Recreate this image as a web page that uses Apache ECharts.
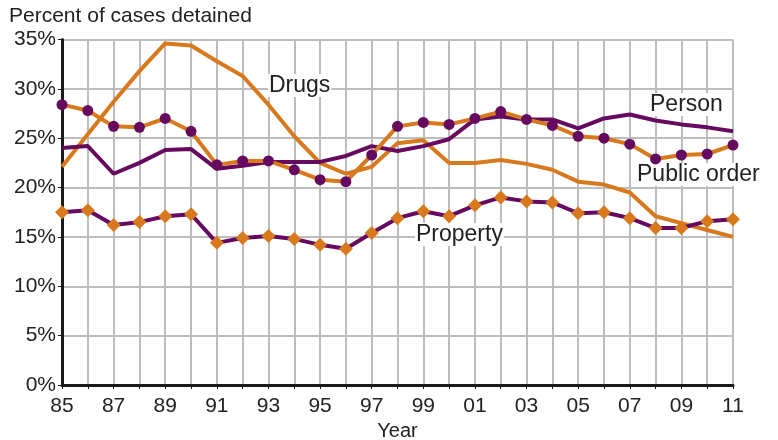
<!DOCTYPE html>
<html>
<head>
<meta charset="utf-8">
<script src="https://cdn.jsdelivr.net/npm/echarts@6/dist/echarts.min.js"></script>
<style>
  html, body { margin: 0; padding: 0; background: #fff; }
  #chart { width: 778px; height: 440px; }
</style>
</head>
<body>
<div id="chart"></div>
<script>
var years = ['85','86','87','88','89','90','91','92','93','94','95','96','97','98','99',
             '00','01','02','03','04','05','06','07','08','09','10','11'];
var drugs = [22.1, 25.4, 28.7, 31.8, 34.6, 34.4, 32.8, 31.3, 28.4, 25.2, 22.5, 21.4, 22.1, 24.5,
             24.8, 22.5, 22.5, 22.8, 22.4, 21.8, 20.6, 20.3, 19.5, 17.1, 16.4, 15.7, 15.0];
var person = [24.0, 24.2, 21.4, 22.5, 23.8, 23.9, 21.9, 22.2, 22.6, 22.6, 22.6, 23.2, 24.2, 23.7,
              24.2, 24.9, 26.9, 27.2, 26.9, 26.9, 26.0, 27.0, 27.4, 26.8, 26.4, 26.1, 25.7];
var publicOrder = [28.4, 27.8, 26.2, 26.1, 27.0, 25.7, 22.3, 22.7, 22.7, 21.8, 20.8, 20.6, 23.3, 26.2,
                   26.6, 26.4, 27.0, 27.7, 26.9, 26.3, 25.2, 25.0, 24.4, 22.9, 23.3, 23.4, 24.3];
var property = [17.5, 17.7, 16.2, 16.5, 17.1, 17.3, 14.4, 14.9, 15.1, 14.8, 14.2, 13.8, 15.4, 16.9,
                17.6, 17.1, 18.2, 19.0, 18.6, 18.5, 17.4, 17.5, 16.9, 15.9, 15.9, 16.6, 16.8];

var orange = '#d8791e';
var purple = '#650a5e';
var grey = '#bdbdbd';
var ink = '#222';
var font = 'Liberation Sans, Arial, sans-serif';

function label(text, left, top) {
  return {
    type: 'text', left: left, top: top, z: 1,
    style: { text: text, fill: ink, font: '23px ' + font, backgroundColor: '#fff', padding: [0, 1] }
  };
}

var chart = echarts.init(document.getElementById('chart'), null, { renderer: 'canvas' });
chart.setOption({
  animation: false,
  grid: { left: 62, right: 45, top: 39.5, bottom: 55, containLabel: false, outerBoundsMode: 'none' },
  xAxis: {
    type: 'category',
    data: years,
    boundaryGap: false,
    name: 'Year',
    nameLocation: 'middle',
    nameGap: 34,
    nameTextStyle: { color: ink, fontSize: 20, fontFamily: font },
    axisLine: { lineStyle: { color: '#1a1a1a', width: 3 } },
    axisTick: { show: true, interval: 0, length: 4, lineStyle: { color: '#1a1a1a', width: 1 } },
    axisLabel: { interval: 1, color: ink, fontSize: 21, fontFamily: font, margin: 11 },
    splitLine: { show: true, interval: 0, lineStyle: { color: grey, width: 2 } }
  },
  yAxis: {
    type: 'value',
    min: 0,
    max: 35,
    interval: 5,
    axisLine: { show: true, lineStyle: { color: '#1a1a1a', width: 3 } },
    axisTick: { show: true, length: 4, lineStyle: { color: '#1a1a1a', width: 1 } },
    axisLabel: { color: ink, fontSize: 21, fontFamily: font, margin: 6, formatter: '{value}%' },
    splitLine: { lineStyle: { color: grey, width: 2 } }
  },
  series: [
    { name: 'Drugs', type: 'line', data: drugs, symbol: 'none',
      lineStyle: { color: orange, width: 4 }, itemStyle: { color: orange } },
    { name: 'Person', type: 'line', data: person, symbol: 'none',
      lineStyle: { color: purple, width: 4 }, itemStyle: { color: purple } },
    { name: 'Public order', type: 'line', data: publicOrder, symbol: 'circle', symbolSize: 11,
      lineStyle: { color: orange, width: 4 }, itemStyle: { color: purple } },
    { name: 'Property', type: 'line', data: property, symbol: 'diamond', symbolSize: 14,
      lineStyle: { color: purple, width: 4 }, itemStyle: { color: orange } }
  ],
  graphic: [
    { type: 'text', left: 9, top: 6, z: 100, style: { text: 'Percent of cases detained', fill: ink, font: '21px ' + font } },
    label('Drugs', 268, 74),
    label('Person', 649, 93),
    label('Public order', 636, 163),
    label('Property', 415, 223)
  ]
});
window.addEventListener('resize', function() { chart.resize(); });
</script>
</body>
</html>
